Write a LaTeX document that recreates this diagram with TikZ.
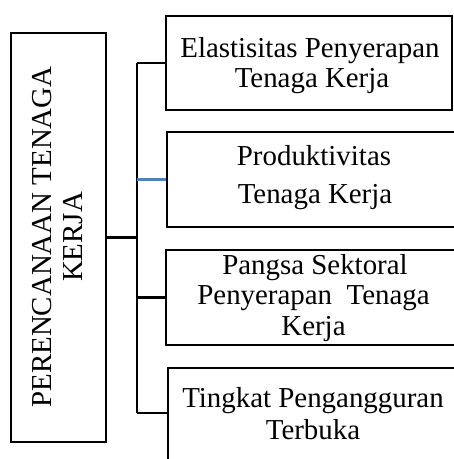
\documentclass[tikz,border=0pt]{standalone}
\usepackage{fontspec}
\setmainfont{Liberation Serif}
\definecolor{linkblue}{HTML}{4F81BD}
\begin{document}
\begin{tikzpicture}[x=1pt,y=-1pt,
  box/.style={draw=black,line width=2.8pt,rectangle,inner sep=0pt},
  conn/.style={draw=black,line width=2.8pt},
  txt/.style={anchor=base,inner sep=0pt,font=\fontsize{28.9}{30}\selectfont}]
\useasboundingbox (0,0) rectangle (454,459);
\clip (0,0) rectangle (454,459);
% boxes
\node[box,minimum width=95pt,minimum height=409pt] (L) at (58.5,237.5) {};
\node[box,minimum width=286pt,minimum height=94pt] (b1) at (309,63) {};
\node[box,minimum width=303pt,minimum height=95pt] (b2) at (318.5,179.5) {};
\node[box,minimum width=304pt,minimum height=95pt] (b3) at (318,297.5) {};
\node[box,minimum width=302pt,minimum height=112pt] (b4) at (319,424) {};
% texts
\node[txt,rotate=90] (l1) at (52,237) {PERENCANAAN TENAGA};
\node[txt,rotate=90] (l2) at (82,237) {KERJA};
\node[txt] (t11) at (310,57) {Elastisitas Penyerapan};
\node[txt] (t12) at (312,87) {Tenaga Kerja};
\node[txt] (t21) at (314,165) {Produktivitas};
\node[txt] (t22) at (315,203) {Tenaga Kerja};
\node[txt] (t31) at (315,274) {Pangsa Sektoral};
\node[txt] (t32) at (313.5,304) {Penyerapan\ \ Tenaga};
\node[txt] (t33) at (313.5,335) {Kerja};
\node[txt] (t41) at (313,407) {Tingkat Pengangguran};
\node[txt] (t42) at (313,439) {Terbuka};
% connectors
\coordinate (tr1) at (137,63);
\coordinate (tr4) at (137,413);
\draw[conn] (tr1) -- (tr4);
\draw[conn] (L.east) -- (L.east -| tr1);
\draw[conn] (tr1) -- (b1.west);
\draw[conn,draw=linkblue,line width=2.4pt] (tr1 |- b2.west) -- (b2.west);
\draw[conn] (tr1 |- b3.west) -- (b3.west);
\draw[conn] (tr4) -- (tr4 -| b4.west);
\end{tikzpicture}
\end{document}
